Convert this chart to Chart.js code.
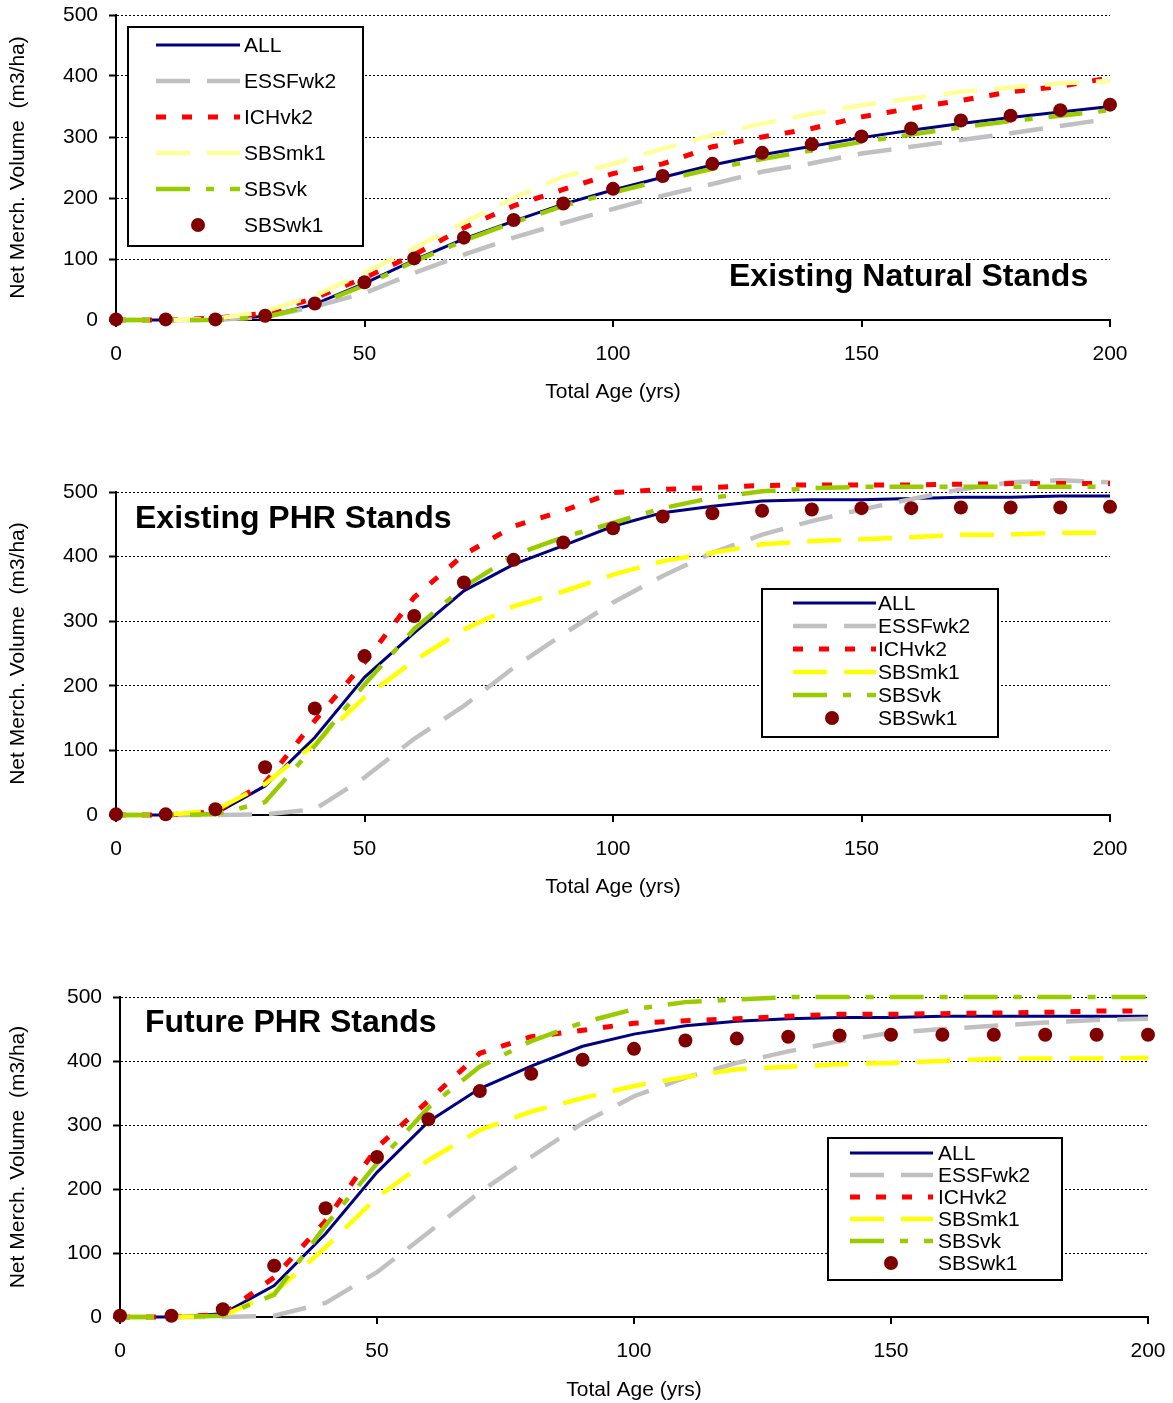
<!DOCTYPE html>
<html>
<head>
<meta charset="utf-8">
<script src="https://cdn.jsdelivr.net/npm/chart.js@4/dist/chart.umd.min.js"></script>
<style>
  body { margin: 0; background: #fff; overflow: hidden; }
  .wrap { position: relative; width: 1173px; height: 1403px; overflow: hidden; }
  canvas { position: absolute; left: 0; }
</style>
</head>
<body>
<div class="wrap">
  <canvas id="chartNatural" width="1173" height="430" style="top:-10px"></canvas>
  <canvas id="chartPhr" width="1173" height="490" style="top:430px"></canvas>
  <canvas id="chartFuture" width="1181" height="473" style="top:930px"></canvas>
</div>
<script>
const ages = [0, 10, 20, 30, 40, 50, 60, 70, 80, 90, 100, 110, 120, 130, 140, 150, 160, 170, 180, 190, 200];
const seriesNames = ['ALL', 'ESSFwk2', 'ICHvk2', 'SBSmk1', 'SBSvk', 'SBSwk1'];
const xTicks = [0, 50, 100, 150, 200];
const yTicks = [0, 100, 200, 300, 400, 500];

// Existing Natural Stands
const natAll = [0, 0, 0, 6, 26, 60, 98, 133, 162, 190, 213, 234, 254, 271, 285, 299, 311, 322, 332, 341, 350];
const natEssf = [0, 0, 0, 5, 22, 44, 77, 107, 135, 159, 182, 204, 223, 243, 257, 273, 284, 295, 306, 318, 330];
const natIch = [0, 0, 3, 11, 36, 69, 107, 151, 187, 214, 240, 256, 284, 300, 314, 333, 347, 360, 374, 383, 397];
const natSbsmk = [0, 0, 2, 14, 40, 77, 118, 160, 200, 235, 256, 281, 303, 322, 338, 352, 363, 374, 381, 388, 392];
const natSbsvk = [0, 0, 0, 5, 24, 57, 96, 130, 160, 187, 209, 229, 248, 264, 278, 292, 304, 316, 326, 335, 344];
const natSbswk = [1, 1, 1, 7, 27, 62, 101, 135, 164, 191, 215, 236, 256, 274, 288, 301, 314, 327, 335, 344, 353];

// Existing PHR Stands
const phrAll = [0, 0, 2, 45, 120, 213, 282, 347, 388, 417, 447, 468, 478, 486, 488, 488, 490, 492, 492, 494, 494];
const phrEssf = [0, 0, 0, 1, 9, 58, 118, 169, 228, 280, 329, 370, 406, 434, 455, 473, 489, 504, 515, 518, 515];
const phrIch = [0, 0, 5, 50, 146, 236, 337, 403, 447, 471, 499, 504, 507, 510, 511, 511, 511, 512, 513, 513, 513];
const phrSbsmk = [0, 0, 7, 48, 110, 182, 239, 287, 323, 346, 372, 393, 406, 419, 424, 427, 430, 434, 434, 437, 437];
const phrSbsvk = [0, 0, 1, 20, 107, 202, 288, 353, 402, 430, 452, 475, 491, 501, 506, 508, 508, 508, 508, 508, 508];
const phrSbswk = [1, 1, 9, 74, 165, 246, 308, 360, 395, 422, 444, 462, 467, 471, 473, 475, 475, 476, 476, 476, 477];

// Future PHR Stands
const futAll = [0, 0, 5, 49, 130, 226, 305, 357, 392, 423, 442, 455, 462, 466, 468, 468, 470, 470, 470, 470, 470];
const futEssf = [0, 0, 0, 2, 22, 70, 132, 195, 250, 303, 345, 374, 397, 415, 431, 444, 450, 455, 460, 464, 466];
const futIch = [0, 0, 4, 62, 150, 265, 338, 412, 438, 448, 459, 463, 466, 470, 473, 473, 474, 475, 476, 478, 478];
const futSbsmk = [0, 0, 2, 38, 109, 187, 245, 292, 321, 342, 361, 375, 387, 391, 395, 397, 400, 403, 404, 404, 405];
const futSbsvk = [0, 0, 2, 35, 143, 240, 327, 391, 431, 460, 481, 492, 496, 500, 500, 500, 500, 500, 500, 500, 500];
const futSbswk = [2, 2, 12, 80, 170, 250, 309, 353, 380, 402, 419, 432, 435, 438, 440, 441, 441, 441, 441, 441, 441];

const FONT = '"Liberation Sans", Arial, sans-serif';

const lineStyles = [
  { color: '#000080', width: 3, dash: [] },
  { color: '#c0c0c0', width: 4.5, dash: [34, 17] },
  { color: '#ff0000', width: 5, dash: [10, 16] },
  { color: '#ffff00', width: 4.5, dash: [34, 17] },
  { color: '#99cc00', width: 4.5, dash: [34, 16, 8, 16] },
  { color: '#800000', width: 0, dash: [] },
];

function buildDatasets(valueSets, mkColor) {
  return valueSets.map((vals, i) => {
    const st = lineStyles[i];
    const color = i === 3 ? mkColor : st.color;
    const ds = {
      label: seriesNames[i],
      data: ages.map((a, j) => ({ x: a, y: vals[j] })),
      borderColor: color,
      backgroundColor: color,
      borderWidth: st.width,
      borderDash: st.dash,
      pointRadius: 0,
      tension: 0,
      clip: false,
      order: -i,
    };
    if (i === 5) {
      ds.showLine = false;
      ds.pointRadius = 7;
      ds.pointBorderWidth = 0;
    }
    return ds;
  });
}

// title and boxed legend, drawn on top of the plot
const overlayPlugin = {
  id: 'overlay',
  afterDraw(chart, args, opts) {
    const ctx = chart.ctx;
    ctx.save();
    ctx.fillStyle = '#000';
    ctx.textBaseline = 'middle';
    ctx.textAlign = 'left';
    ctx.font = 'bold 32px ' + FONT;
    ctx.fillText(opts.title, opts.titleX, opts.titleY);

    const lg = opts.legend;
    ctx.fillStyle = '#fff';
    ctx.fillRect(lg.x, lg.y, lg.w, lg.h);
    ctx.lineWidth = 2;
    ctx.strokeStyle = '#000';
    ctx.strokeRect(lg.x, lg.y, lg.w, lg.h);

    ctx.font = '21px ' + FONT;
    chart.data.datasets.forEach((ds, i) => {
      const y = lg.row0 + i * lg.gap;
      if (ds.showLine === false) {
        ctx.fillStyle = ds.backgroundColor;
        ctx.beginPath();
        ctx.arc(lg.dotX, y, 7, 0, Math.PI * 2);
        ctx.fill();
      } else {
        ctx.setLineDash(ds.borderDash);
        ctx.lineWidth = ds.borderWidth;
        ctx.strokeStyle = ds.borderColor;
        ctx.beginPath();
        ctx.moveTo(lg.lineX0, y);
        ctx.lineTo(lg.lineX1, y);
        ctx.stroke();
        ctx.setLineDash([]);
      }
      ctx.fillStyle = '#000';
      ctx.fillText(ds.label, lg.textX, y + 1);
    });
    ctx.restore();
  },
};

function makeChart(id, datasets, box, overlay) {
  return new Chart(document.getElementById(id), {
    type: 'line',
    data: { datasets: datasets },
    plugins: [overlayPlugin],
    options: {
      responsive: false,
      animation: false,
      layout: { padding: { top: box.top, right: box.right, left: 0, bottom: 0 } },
      plugins: {
        legend: { display: false },
        tooltip: { enabled: false },
        overlay: overlay,
      },
      scales: {
        x: {
          type: 'linear',
          min: 0,
          max: 200,
          afterBuildTicks: (s) => { s.ticks = xTicks.map((v) => ({ value: v })); },
          afterFit: (s) => { s.height = box.xHeight; },
          ticks: { color: '#000', font: { family: FONT, size: 21 }, padding: 15, maxRotation: 0 },
          grid: { drawOnChartArea: false, drawTicks: true, tickLength: 7, color: '#000', lineWidth: 2 },
          border: { display: true, color: '#000', width: 2 },
          title: {
            display: true,
            text: 'Total Age (yrs)',
            color: '#000',
            font: { family: FONT, size: 21 },
            padding: { top: 0, bottom: box.xTitlePad },
          },
        },
        y: {
          min: 0,
          max: 500,
          afterBuildTicks: (s) => { s.ticks = yTicks.map((v) => ({ value: v })); },
          afterFit: (s) => { s.width = box.left; },
          ticks: { color: '#000', font: { family: FONT, size: 21 }, padding: 11 },
          grid: { color: '#000', lineWidth: 1, tickLength: 7, tickColor: '#000', tickWidth: 2 },
          border: { display: true, color: '#000', width: 2, dash: [2, 2] },
          title: {
            display: true,
            text: 'Net Merch. Volume  (m3/ha)',
            color: '#000',
            font: { family: FONT, size: 21 },
            padding: { top: 6, bottom: 0 },
          },
        },
      },
    },
  });
}

makeChart(
  'chartNatural',
  buildDatasets([natAll, natEssf, natIch, natSbsmk, natSbsvk, natSbswk], '#ffff99'),
  { top: 25, right: 63, left: 116, xHeight: 100, xTitlePad: 15 },
  {
    title: 'Existing Natural Stands', titleX: 729, titleY: 287,
    legend: { x: 128, y: 37, w: 235, h: 219, row0: 55, gap: 36, lineX0: 156, lineX1: 240, textX: 244, dotX: 198 },
  }
);

makeChart(
  'chartPhr',
  buildDatasets([phrAll, phrEssf, phrIch, phrSbsmk, phrSbsvk, phrSbswk], '#ffff00'),
  { top: 62, right: 63, left: 116, xHeight: 105, xTitlePad: 20 },
  {
    title: 'Existing PHR Stands', titleX: 135, titleY: 89,
    legend: { x: 762, y: 159, w: 236, h: 148, row0: 173, gap: 23, lineX0: 793, lineX1: 876, textX: 878, dotX: 832 },
  }
);

makeChart(
  'chartFuture',
  buildDatasets([futAll, futEssf, futIch, futSbsmk, futSbsvk, futSbswk], '#ffff00'),
  { top: 67, right: 33, left: 120, xHeight: 86, xTitlePad: 0 },
  {
    title: 'Future PHR Stands', titleX: 145, titleY: 93,
    legend: { x: 828, y: 208, w: 234, h: 142, row0: 223, gap: 22, lineX0: 850, lineX1: 933, textX: 938, dotX: 891 },
  }
);
</script>
</body>
</html>
